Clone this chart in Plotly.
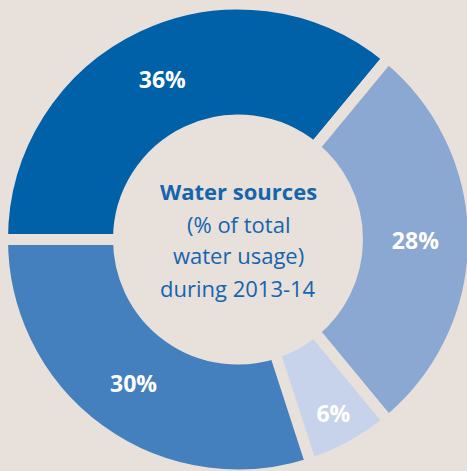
import plotly.graph_objects as go

labels = ["Source A", "Source B", "Source C", "Source D"]
values = [36, 28, 6, 30]
colors = ["#0060a8", "#8aa8d2", "#c7d3ea", "#4380bd"]
center_lines = ["<b>Water sources</b>", "(% of total", "water usage)", "during 2013-14"]

BG = "#e8e0db"
# figure is slightly larger than the window so the ring can be cut off at the right/bottom
W, H = 476, 478
CX, CY, R = 238.0, 239.5, 235.5   # pixel centre / outer radius of the pie
GAP = 11

fig = go.Figure()
fig.add_trace(go.Pie(
    labels=labels,
    values=values,
    sort=False,
    direction="clockwise",
    rotation=270,
    hole=119.5 / R,
    domain=dict(x=[(CX - R) / W, (CX + R) / W],
                y=[(H - CY - R) / H, (H - CY + R) / H]),
    marker=dict(colors=colors, line=dict(color=BG, width=GAP)),
    texttemplate="<b>%{value}%</b>",
    textposition="inside",
    insidetextorientation="horizontal",
    textfont=dict(family="Open Sans", size=23, color="white"),
    showlegend=False,
    hoverinfo="skip",
))

for i, t in enumerate(center_lines):
    py = CY - 48 + i * 32
    fig.add_annotation(
        x=CX / W, y=1 - py / H, xref="paper", yref="paper",
        text=t, showarrow=False,
        font=dict(family="Open Sans", size=22, color="#1565ad"),
        xanchor="center", yanchor="middle",
    )

fig.update_layout(
    width=W, height=H,
    margin=dict(l=0, r=0, t=0, b=0),
    paper_bgcolor=BG, plot_bgcolor=BG,
)
fig.write_html(
    "out.html",
    config={"displayModeBar": False},
    post_script="document.body.style.margin='0';document.body.style.overflow='hidden';document.body.style.background='%s';" % BG,
)
